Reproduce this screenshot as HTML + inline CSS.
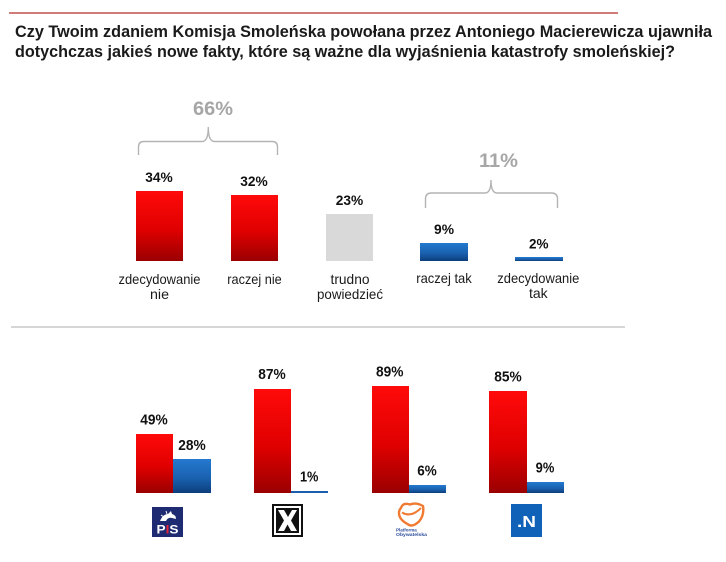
<!DOCTYPE html>
<html>
<head>
<meta charset="utf-8">
<style>
  html,body{margin:0;padding:0;background:#ffffff;}
  svg{display:block;}
  text{font-family:"Liberation Sans","DejaVu Sans",sans-serif;}
</style>
</head>
<body>
<svg width="726" height="562" viewBox="0 0 726 562" xmlns="http://www.w3.org/2000/svg">
  <defs>
    <linearGradient id="red" x1="0" y1="0" x2="0" y2="1">
      <stop offset="0" stop-color="#ff0a0a"/>
      <stop offset="0.55" stop-color="#e00000"/>
      <stop offset="1" stop-color="#9a0000"/>
    </linearGradient>
    <linearGradient id="blue" x1="0" y1="0" x2="0" y2="1">
      <stop offset="0" stop-color="#2479cf"/>
      <stop offset="0.55" stop-color="#1a62b0"/>
      <stop offset="1" stop-color="#0c3e7c"/>
    </linearGradient>
  </defs>

  <rect x="0" y="0" width="726" height="562" fill="#ffffff"/>

  <!-- top red rule -->
  <line x1="9" y1="13" x2="618" y2="13" stroke="#c0504d" stroke-width="1.6"/>

  <!-- title -->
  <text x="15" y="37" font-size="17" font-weight="bold" fill="#1a1a1a" textLength="697" lengthAdjust="spacingAndGlyphs">Czy Twoim  zdaniem Komisja Smoleńska powołana przez Antoniego Macierewicza ujawniła</text>
  <text x="15" y="57" font-size="17" font-weight="bold" fill="#1a1a1a" textLength="660" lengthAdjust="spacingAndGlyphs">dotychczas jakieś nowe fakty, które są ważne dla wyjaśnienia katastrofy smoleńskiej?</text>

  <!-- braces -->
  <path d="M138.5,155 L138.5,147 Q138.5,141.5 144,141.5 L202,141.5 Q208.3,141.5 208.3,127 Q208.3,141.5 214.5,141.5 L272,141.5 Q277.5,141.5 277.5,147 L277.5,155" fill="none" stroke="#b3b3b3" stroke-width="1.4"/>
  <text x="213" y="115" font-size="19" font-weight="bold" fill="#a6a6a6" text-anchor="middle" textLength="40" lengthAdjust="spacingAndGlyphs">66%</text>

  <path d="M425.5,208 L425.5,199 Q425.5,193 431.5,193 L485,193 Q491,193 491,180 Q491,193 497,193 L551.5,193 Q557.5,193 557.5,199 L557.5,208" fill="none" stroke="#b3b3b3" stroke-width="1.4"/>
  <text x="498.5" y="167" font-size="19" font-weight="bold" fill="#a6a6a6" text-anchor="middle" textLength="39" lengthAdjust="spacingAndGlyphs">11%</text>

  <!-- top chart bars -->
  <rect x="136" y="191" width="47" height="70" fill="url(#red)"/>
  <rect x="231" y="195" width="47" height="66" fill="url(#red)"/>
  <rect x="326" y="214" width="47" height="47" fill="#d9d9d9"/>
  <rect x="420" y="243" width="48" height="18" fill="url(#blue)"/>
  <rect x="515" y="257" width="48" height="4" fill="url(#blue)"/>

  <!-- top values -->
  <g font-size="14" font-weight="bold" fill="#111" text-anchor="middle">
    <text x="159" y="182" textLength="27.5" lengthAdjust="spacingAndGlyphs">34%</text>
    <text x="254" y="186" textLength="27.5" lengthAdjust="spacingAndGlyphs">32%</text>
    <text x="349.5" y="205" textLength="27.5" lengthAdjust="spacingAndGlyphs">23%</text>
    <text x="444" y="234" textLength="20" lengthAdjust="spacingAndGlyphs">9%</text>
    <text x="538.7" y="248.5" textLength="19.5" lengthAdjust="spacingAndGlyphs">2%</text>
  </g>

  <!-- top category labels -->
  <g font-size="14" fill="#1a1a1a" text-anchor="middle">
    <text x="159.5" y="284" textLength="82" lengthAdjust="spacingAndGlyphs">zdecydowanie</text>
    <text x="159.5" y="299" textLength="19" lengthAdjust="spacingAndGlyphs">nie</text>
    <text x="254.5" y="284" textLength="54.5" lengthAdjust="spacingAndGlyphs">raczej nie</text>
    <text x="350" y="284" textLength="39" lengthAdjust="spacingAndGlyphs">trudno</text>
    <text x="350" y="299" textLength="66" lengthAdjust="spacingAndGlyphs">powiedzieć</text>
    <text x="444" y="283" textLength="55.5" lengthAdjust="spacingAndGlyphs">raczej tak</text>
    <text x="538.3" y="283" textLength="82" lengthAdjust="spacingAndGlyphs">zdecydowanie</text>
    <text x="538.3" y="298" textLength="18.7" lengthAdjust="spacingAndGlyphs">tak</text>
  </g>

  <!-- separator -->
  <line x1="11" y1="327" x2="625" y2="327" stroke="#c8c8c8" stroke-width="1.5"/>

  <!-- bottom bars -->
  <rect x="136" y="434" width="37" height="59" fill="url(#red)"/>
  <rect x="173" y="459" width="38" height="34" fill="url(#blue)"/>

  <rect x="254" y="389" width="37" height="104" fill="url(#red)"/>
  <rect x="291" y="491" width="37" height="2" fill="#1a5fae"/>

  <rect x="372" y="386" width="37" height="107" fill="url(#red)"/>
  <rect x="409" y="485" width="37" height="8" fill="url(#blue)"/>

  <rect x="489" y="391" width="38" height="102" fill="url(#red)"/>
  <rect x="527" y="482" width="37" height="11" fill="url(#blue)"/>

  <!-- bottom values -->
  <g font-size="14.5" font-weight="bold" fill="#111" text-anchor="middle">
    <text x="154" y="424.5" textLength="27.5" lengthAdjust="spacingAndGlyphs">49%</text>
    <text x="192" y="450" textLength="27.5" lengthAdjust="spacingAndGlyphs">28%</text>
    <text x="272" y="379" textLength="27.5" lengthAdjust="spacingAndGlyphs">87%</text>
    <text x="309.2" y="481.7" textLength="18.5" lengthAdjust="spacingAndGlyphs">1%</text>
    <text x="389.7" y="376.7" textLength="27.5" lengthAdjust="spacingAndGlyphs">89%</text>
    <text x="427" y="475.7" textLength="19.5" lengthAdjust="spacingAndGlyphs">6%</text>
    <text x="508" y="381.7" textLength="27.5" lengthAdjust="spacingAndGlyphs">85%</text>
    <text x="545" y="472.3" textLength="18.7" lengthAdjust="spacingAndGlyphs">9%</text>
  </g>

  <!-- PiS logo -->
  <rect x="152" y="507" width="31" height="30" fill="#1e2a72"/>
  <path d="M160,521 Q163,514 168,514 L171,511 L172,514 Q176,515 176,519 L172,518 Q168,517 166,521 Z" fill="#ffffff"/>
  <path d="M164,517 L161,515 M167,514 L166,511" stroke="#ffffff" stroke-width="1"/>
  <text x="167.5" y="533.5" font-size="12" font-weight="bold" fill="#ffffff" text-anchor="middle" textLength="22" lengthAdjust="spacingAndGlyphs">P<tspan fill="#e8243b">I</tspan>S</text>

  <!-- Kukiz logo -->
  <rect x="272" y="504" width="31" height="33" fill="#111"/>
  <rect x="274" y="506" width="27" height="29" fill="#ffffff"/>
  <rect x="276" y="508" width="23" height="25" fill="#111"/>
  <path d="M278,510 L284,510 L288,517 L292,510 L297,510 L291,520.5 L297,531 L291,531 L287.5,524.5 L284,531 L278,531 L284,520.5 Z" fill="#ffffff"/>

  <!-- PO logo -->
  <path d="M401,508 Q403,502 410,504.5 Q416,502 423,506 Q424.5,515 419,521.5 Q412,528 407.5,524 Q399,519.5 399,513 Q399,510 401,508 Z" fill="none" stroke="#f07a32" stroke-width="2.4"/>
  <path d="M402,512.5 Q411,518 421,508" fill="none" stroke="#f07a32" stroke-width="2"/>
  <text x="396" y="531.5" font-size="4.5" font-weight="bold" fill="#2b4c9b">Platforma</text>
  <text x="396" y="536" font-size="4.5" font-weight="bold" fill="#2b4c9b" textLength="31" lengthAdjust="spacingAndGlyphs">Obywatelska</text>

  <!-- Nowoczesna logo -->
  <rect x="511" y="504" width="31" height="33" fill="#0f62b8"/>
  <text x="526.5" y="527" font-size="16" font-weight="bold" fill="#ffffff" text-anchor="middle" textLength="19" lengthAdjust="spacingAndGlyphs">.N</text>
</svg>
</body>
</html>
